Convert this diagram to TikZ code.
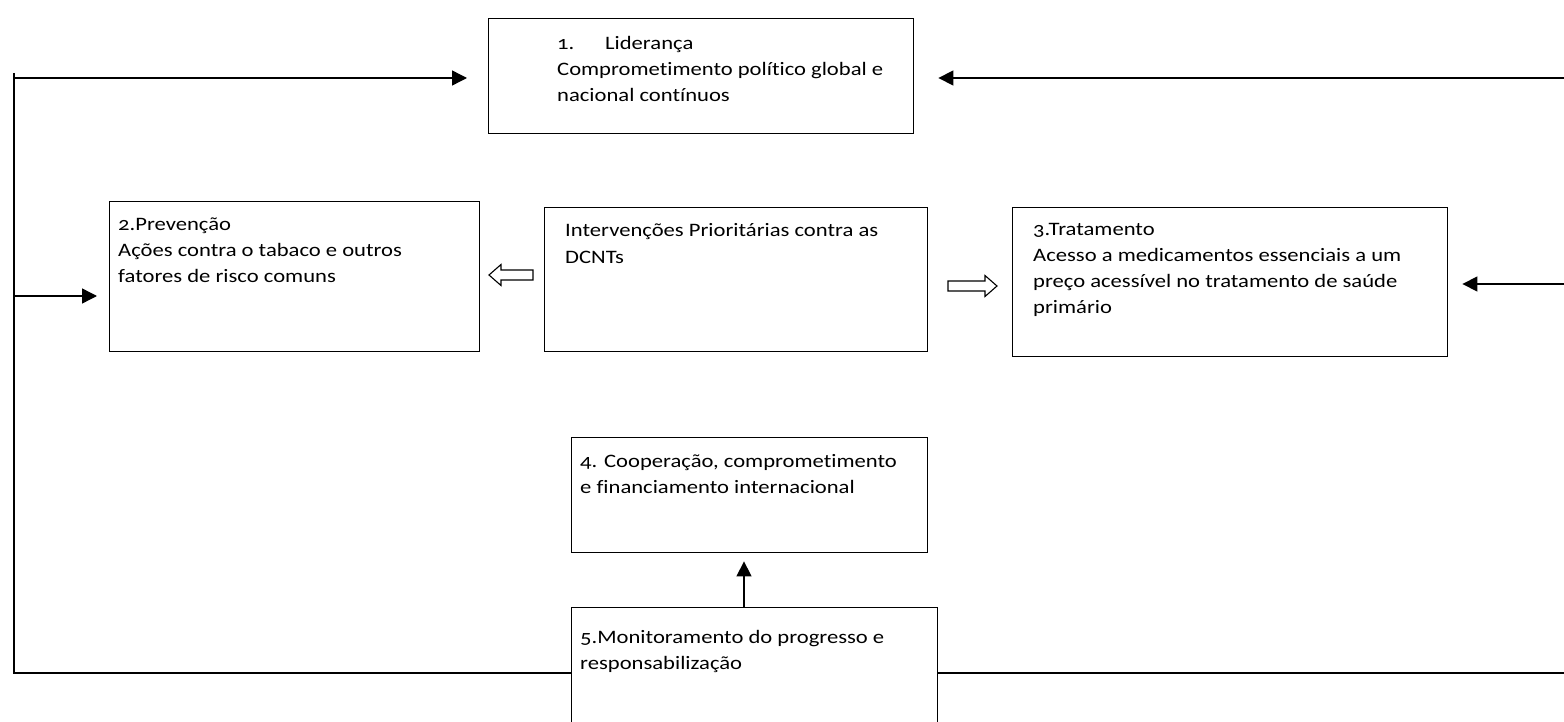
\documentclass[tikz,border=0pt]{standalone}
\usepackage{fontspec}
\setmainfont{Carlito}[Numbers=OldStyle, Ligatures=NoCommon, FakeStretch=1.19]
\usetikzlibrary{arrows.meta}
\tikzset{
  x=1pt,y=-1pt,
  box/.style={draw, line width=1.4pt, rectangle, anchor=north west, inner sep=0},
  txt/.style={anchor=base west, inner sep=0, font=\fontsize{19}{26}\selectfont},
  arr/.style={line width=1.4pt, -{Triangle[length=15pt,width=15pt]}},
  conn/.style={line width=1.4pt},
  hollow/.style={draw, line width=1.1pt, fill=white, line join=miter},
}
\newcommand{\tb}[2]{\parbox[t]{#1pt}{\raggedright #2}}
\begin{document}
\begin{tikzpicture}
\useasboundingbox (0,0) rectangle (1564,722);
\clip (0,0) rectangle (1564,722);
\fill[white] (0,0) rectangle (1564,722);
% boxes
\node[box, minimum width=425pt, minimum height=115pt] (b1) at (488,18) {};
\node[box, minimum width=370pt, minimum height=150pt] (b2) at (109,201) {};
\node[box, minimum width=383pt, minimum height=144pt] (bc) at (544,207) {};
\node[box, minimum width=435pt, minimum height=149pt] (b3) at (1012,207) {};
\node[box, minimum width=356pt, minimum height=115pt] (b4) at (571,437) {};
\node[box, minimum width=366pt, minimum height=140pt] (b5) at (571,607) {};
% texts
\node[txt] (t1) at (557,50) {\tb{350}{\makebox[48pt][l]{1.}Liderança\\Comprometimento político global e\\nacional contínuos}};
\node[txt] (t2) at (118,231) {\tb{350}{2.Prevenção\\Ações contra o tabaco e outros\\fatores de risco comuns}};
\node[txt] (tc) at (565,237) {\tb{350}{Intervenções Prioritárias contra as\\DCNTs}};
\node[txt] (t3) at (1033,236) {\tb{400}{3.Tratamento\\Acesso a medicamentos essenciais a um\\preço acessível no tratamento de saúde\\primário}};
\node[txt] (t4) at (580,467) {\tb{340}{4. Cooperação, comprometimento\\e financiamento internacional}};
\node[txt] (t5) at (580,643) {\tb{340}{5.Monitoramento do progresso e\\responsabilização}};
% hollow block arrows
\draw[hollow] (489,275) -- (501,264.5) -- (501,270) -- (533,270) -- (533,280) -- (501,280) -- (501,285.5) -- cycle;
\draw[hollow] (997,286) -- (985,275.5) -- (985,281) -- (948,281) -- (948,291) -- (985,291) -- (985,296.5) -- cycle;
% frame coordinates
\coordinate (ltop) at (14,73);
\coordinate (lbot) at (14,673);
\coordinate (la) at (14,78);
\coordinate (lm) at (14,296);
\coordinate (ra) at (1564,78);
\coordinate (rm) at (1564,284);
\coordinate (rb) at (1564,673);
\coordinate (ax) at (744,0);
% connectors
\draw[conn] (ltop) -- (lbot) -- (lbot -| b5.west);
\draw[conn] (rb) -- (rb -| b5.east);
\draw[arr, shorten >=21pt] (la) -- (la -| b1.west);
\draw[arr, shorten >=24pt] (ra) -- (ra -| b1.east);
\draw[arr, shorten >=12pt] (lm) -- (lm -| b2.west);
\draw[arr, shorten >=14pt] (rm) -- (rm -| b3.east);
\draw[arr, shorten >=8pt] (b5.north -| ax) -- (b4.south -| ax);
\end{tikzpicture}
\end{document}
